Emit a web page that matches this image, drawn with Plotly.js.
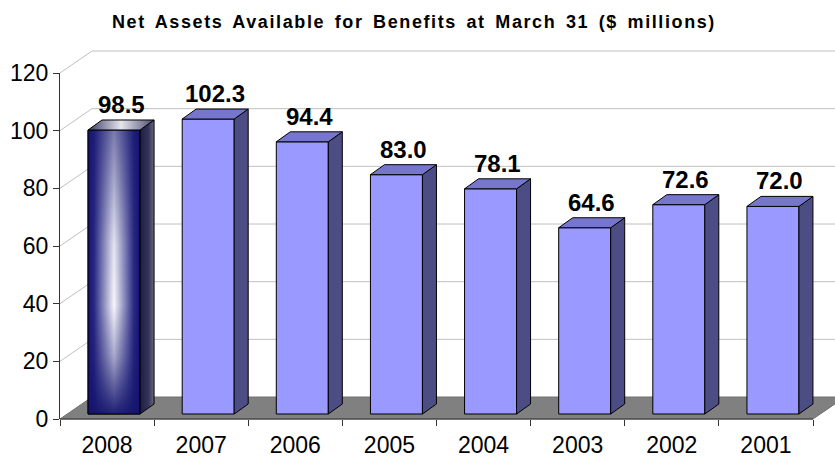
<!DOCTYPE html>
<html>
<head>
<meta charset="utf-8">
<script src="https://cdn.plot.ly/plotly-3.0.1.min.js"></script>
<style>
html,body{margin:0;padding:0;background:#fff}
#chart{width:835px;height:457px}
#chart .gtitle{letter-spacing:1.6px;word-spacing:3px}
</style>
</head>
<body>
<div id="chart"></div>
<script>
// ---- data ----
const years = ['2008','2007','2006','2005','2004','2003','2002','2001'];
const values = [98.5, 102.3, 94.4, 83.0, 78.1, 64.6, 72.6, 72.0];
const yTickVals = [0, 20, 40, 60, 80, 100, 120];
const titleText = 'Net Assets Available for Benefits at March 31 ($ millions)';

// ---- geometry (pixels) ----
const W = 835, H = 457, L = 60, R = 0, T = 73, B = 38;
const plotW = W - L - R, plotH = H - T - B;
const frontW = 753;                 // width of front plane of category axis
const n = years.length;
const kx = frontW / n;              // px per category
const yMax = 120;
const ky = plotH / yMax;            // px per unit
const wallDX = 32, wallDY = 22;     // back wall depth
const barOffX = 7, barOffY = 5;     // bar front plane offset
const barDX = 14, barDY = 10;       // bar depth
const barW = 52 / kx;               // bar width in category units
const hw = barW / 2;
const ddx = barDX / kx, ddy = barDY / ky;

const xRange = [-0.5, -0.5 + plotW / kx];
const x2Range = [xRange[0] - barOffX / kx, xRange[1] - barOffX / kx];
const y2Range = [-barOffY / ky, yMax - barOffY / ky];

const FRONT = '#9999FF', TOP = '#7676CC', SIDE = '#4D4D86';
const EDGE = '#000000';
const hl = 0; // highlighted (current year) bar

const idx = years.map((_, i) => i);

const traces = [];
// front faces (bars)
traces.push({
  type: 'bar', x: idx, y: values, xaxis: 'x2', yaxis: 'y2',
  width: barW,
  marker: {color: idx.map(i => i === hl ? '#1a1a78' : FRONT), line: {color: EDGE, width: 1}},
  hoverinfo: 'skip', showlegend: false
});

function poly(pts) { return {x: pts.map(p => p[0]).concat([pts[0][0]]), y: pts.map(p => p[1]).concat([pts[0][1]])}; }
function sidePts(i) { const c = i, v = values[i]; return [[c+hw,0],[c+hw,v],[c+hw+ddx,v+ddy],[c+hw+ddx,ddy]]; }
function topPts(i) { const c = i, v = values[i]; return [[c-hw,v],[c+hw,v],[c+hw+ddx,v+ddy],[c-hw+ddx,v+ddy]]; }
function frontPts(i) { const c = i, v = values[i]; return [[c-hw,0],[c+hw,0],[c+hw,v],[c-hw,v]]; }

function joinPolys(list) {
  const xs = [], ys = [];
  list.forEach((p, k) => { const q = poly(p); if (k) { xs.push(null); ys.push(null); } xs.push(...q.x); ys.push(...q.y); });
  return {x: xs, y: ys};
}
const normal = idx.filter(i => i !== hl);
const sides = joinPolys(normal.map(sidePts));
const tops = joinPolys(normal.map(topPts));
traces.push({type:'scatter', mode:'lines', x: sides.x, y: sides.y, xaxis:'x2', yaxis:'y2', fill:'toself', fillcolor: SIDE, line:{color:EDGE,width:1}, hoverinfo:'skip', showlegend:false});
traces.push({type:'scatter', mode:'lines', x: tops.x, y: tops.y, xaxis:'x2', yaxis:'y2', fill:'toself', fillcolor: TOP, line:{color:EDGE,width:1}, hoverinfo:'skip', showlegend:false});

// highlighted bar with gradients
const fq = poly(frontPts(hl));
traces.push({type:'scatter', mode:'lines', x: fq.x, y: fq.y, xaxis:'x2', yaxis:'y2', fill:'toself',
  fillgradient:{type:'horizontal', colorscale:[[0,'#14146e'],[0.12,'#2a2a86'],[0.5,'#f6f6fb'],[0.88,'#2a2a86'],[1,'#14146e']]},
  line:{color:EDGE,width:0}, hoverinfo:'skip', showlegend:false});
traces.push({type:'scatter', mode:'lines', x: fq.x, y: fq.y, xaxis:'x2', yaxis:'y2', fill:'toself',
  fillgradient:{type:'vertical', colorscale:[[0,'rgba(20,20,110,0.95)'],[0.2,'rgba(20,20,110,0.35)'],[0.38,'rgba(20,20,110,0)'],[0.6,'rgba(20,20,110,0.08)'],[1,'rgba(20,20,110,0.55)']]},
  line:{color:EDGE,width:1}, hoverinfo:'skip', showlegend:false});
const sq = poly(sidePts(hl));
traces.push({type:'scatter', mode:'lines', x: sq.x, y: sq.y, xaxis:'x2', yaxis:'y2', fill:'toself',
  fillgradient:{type:'horizontal', colorscale:[[0,'#1c1c48'],[0.6,'#34345a'],[1,'#6a6a7a']]},
  line:{color:EDGE,width:1}, hoverinfo:'skip', showlegend:false});
const tq = poly(topPts(hl));
traces.push({type:'scatter', mode:'lines', x: tq.x, y: tq.y, xaxis:'x2', yaxis:'y2', fill:'toself',
  fillgradient:{type:'horizontal', colorscale:[[0,'#3a3a66'],[0.5,'#e6e6ee'],[1,'#4a4a70']]},
  line:{color:EDGE,width:1}, hoverinfo:'skip', showlegend:false});

// ---- shapes: back wall gridlines + floor ----
const shapes = [];
const pdx = wallDX / plotW, pdy = wallDY / plotH;
yTickVals.filter(v => v > 0).forEach(v => {
  const py = v / yMax;
  shapes.push({type:'path', xref:'paper', yref:'paper', layer:'below',
    path: `M 0 ${py} L ${pdx} ${py + pdy} L ${1 + 0.02} ${py + pdy}`,
    line:{color:'#C0C0C0', width:1}});
});
const fr = frontW / plotW;
shapes.push({type:'path', xref:'paper', yref:'paper', layer:'below',
  path: `M 0 0 L ${fr} 0 L ${fr + pdx} ${pdy} L ${pdx} ${pdy} Z`,
  fillcolor:'#808080', line:{color:'#707070', width:1}});
shapes.push({type:'line', xref:'paper', yref:'paper', layer:'below',
  x0:0, x1:fr, y0:0, y1:0, line:{color:'#333333', width:1}});

// ---- value labels (centred on back top edge of each bar) ----
const annotations = idx.map(i => ({
  x: i + ddx / 2, y: values[i] + ddy, xref:'x2', yref:'y2',
  text: values[i].toFixed(1), showarrow:false, xanchor:'center', yanchor:'bottom', yshift: 0,
  font:{family:'Arial, "Liberation Sans", sans-serif', size:24, color:'#000', weight:'bold'}
}));

const font = {family:'Arial, "Liberation Sans", sans-serif', color:'#000'};
const layout = {
  width: W, height: H,
  margin: {l: L, r: R, t: T, b: B, pad: 0},
  paper_bgcolor:'#fff', plot_bgcolor:'rgba(0,0,0,0)',
  showlegend:false,
  font: font,
  title: {text: '<b>' + titleText + '</b>', x: 414/W, xref:'container', xanchor:'center', y: 1 - 22/H, yref:'container', yanchor:'middle',
    font: {family:'Arial, "Liberation Sans", sans-serif', size:18, color:'#000'}},
  xaxis: {type:'category', categoryarray: years, categoryorder:'array', range: xRange,
    tickson:'boundaries', ticks:'outside', ticklen:6, tickcolor:'#333', tickwidth:1,
    ticklabelstandoff: 10,
    showline:false, showgrid:false, zeroline:false, fixedrange:true,
    tickfont:{family:'Arial, "Liberation Sans", sans-serif', size:23, color:'#000'}},
  yaxis: {range:[0, yMax], tickvals: yTickVals, ticks:'outside', ticklen:6, tickcolor:'#333',
    showline:true, linecolor:'#333', linewidth:1, showgrid:false, zeroline:false, fixedrange:true,
    tickfont:{family:'Arial, "Liberation Sans", sans-serif', size:23, color:'#000'}},
  xaxis2: {overlaying:'x', type:'linear', range: x2Range, visible:false, fixedrange:true},
  yaxis2: {overlaying:'y', type:'linear', range: y2Range, visible:false, fixedrange:true},
  shapes: shapes,
  annotations: annotations
};

Plotly.newPlot('chart', [
  {type:'bar', x: years, y: values.map(() => null), xaxis:'x', yaxis:'y', hoverinfo:'skip', showlegend:false}
].concat(traces), layout, {displayModeBar:false, staticPlot:true});
</script>
</body>
</html>
